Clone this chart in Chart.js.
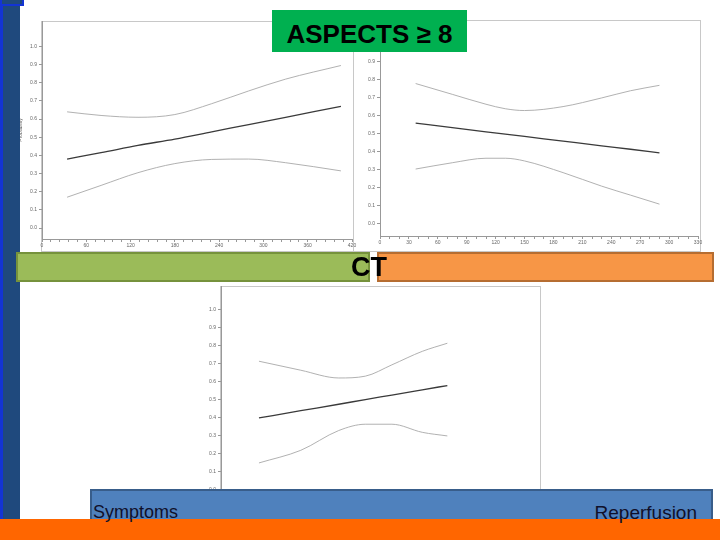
<!DOCTYPE html>
<html>
<head>
<meta charset="utf-8">
<script src="https://cdn.jsdelivr.net/npm/chart.js@4.4.1/dist/chart.umd.min.js"></script>
<style>
  body { margin: 0; width: 720px; height: 540px; position: relative; overflow: hidden; background: #fff;
         font-family: "Liberation Sans", Arial, sans-serif; }
  .abs { position: absolute; box-sizing: border-box; }
  .frame { border: 1px solid #c8c8c8; z-index: 1; }
  canvas { position: absolute; z-index: 2; }
  .bar { z-index: 3; }
  .txt { position: absolute; z-index: 5; white-space: nowrap; }
</style>
</head>
<body>

<div class="abs bar" style="left:0;top:0;width:20px;height:520px;background:#1f497d;border-left:3px solid #1334d4;"></div>
<div class="abs bar" style="left:0;top:0;width:24px;height:6px;background:#1f497d;border:2px solid #1334d4;border-top:0;"></div>

<div class="abs frame" style="left:41px;top:21px;width:313px;height:231px;"></div>
<div class="abs frame" style="left:353px;top:20px;width:348px;height:232px;"></div>
<div class="abs frame" style="left:220px;top:286px;width:321px;height:234px;"></div>

<canvas id="symptomsCtChart" width="342" height="238" style="left:18px;top:15px;"></canvas>
<canvas id="ctReperfusionChart" width="346" height="236" style="left:360px;top:14px;"></canvas>
<canvas id="symptomsReperfusionChart" width="347" height="234" style="left:201px;top:280px;"></canvas>

<div class="abs bar" style="left:272px;top:10px;width:195px;height:42px;background:#00b050;z-index:4;"></div>
<div class="txt" style="left:272px;top:10px;width:195px;height:42px;line-height:42px;padding-top:3px;box-sizing:border-box;text-align:center;font-weight:bold;font-size:26px;color:#000;">ASPECTS ≥ 8</div>

<div class="abs bar" style="left:16px;top:252px;width:354px;height:30px;background:#9bbb59;border:2px solid #76923c;"></div>
<div class="abs bar" style="left:377px;top:252px;width:337px;height:30px;background:#f79646;border:2px solid #b66d31;"></div>
<div class="txt" style="left:351px;top:254px;font-weight:bold;font-size:27px;line-height:27px;color:#000;">CT</div>

<div class="abs bar" style="left:90px;top:489px;width:623px;height:32px;background:#4f81bd;border:2px solid #385d8a;"></div>
<div class="abs bar" style="left:0;top:519px;width:720px;height:21px;background:#ff6600;"></div>
<div class="txt" style="left:93px;top:502px;font-size:18px;line-height:20px;color:#10102a;">Symptoms</div>
<div class="txt" style="right:23px;top:503px;font-size:19px;line-height:20px;color:#10102a;">Reperfusion</div>

<script>
// probability axis ticks shared by all three panels
const probTicks = [0.0, 0.1, 0.2, 0.3, 0.4, 0.5, 0.6, 0.7, 0.8, 0.9, 1.0];

// panel 1: symptoms -> CT (minutes)
const symCtTicks = [0, 60, 120, 180, 240, 300, 360, 420];
const symCtX   = [34, 80, 130, 180, 230, 280, 330, 405];
const symCtEst = [0.38, 0.415, 0.455, 0.49, 0.53, 0.57, 0.61, 0.67];
const symCtLo  = [0.17, 0.235, 0.305, 0.355, 0.378, 0.38, 0.36, 0.315];
const symCtHi  = [0.64, 0.62, 0.61, 0.625, 0.685, 0.755, 0.82, 0.895];

// panel 2: CT -> reperfusion (minutes)
const ctRepTicks = [0, 30, 60, 90, 120, 150, 180, 210, 240, 270, 300, 330];
const ctRepX   = [37, 75, 110, 130, 150, 190, 230, 260, 290];
const ctRepEst = [0.56, 0.535, 0.512, 0.499, 0.486, 0.46, 0.434, 0.415, 0.395];
const ctRepLo  = [0.305, 0.34, 0.365, 0.365, 0.35, 0.285, 0.21, 0.16, 0.11];
const ctRepHi  = [0.78, 0.72, 0.665, 0.64, 0.63, 0.652, 0.70, 0.74, 0.77];

// panel 3: symptoms -> reperfusion
const symRepTicks = [0, 60, 120, 180, 240, 300, 360, 420];
const symRepX   = [50, 105, 155, 190, 225, 265, 298];
const symRepEst = [0.40, 0.44, 0.476, 0.502, 0.527, 0.556, 0.58];
const symRepLo  = [0.15, 0.22, 0.33, 0.365, 0.365, 0.32, 0.30];
const symRepHi  = [0.715, 0.665, 0.622, 0.632, 0.695, 0.77, 0.815];

Chart.defaults.font.family = '"Liberation Sans", Arial, sans-serif';

function curveChart(id, xs, est, lo, hi, o) {
    const ctx = document.getElementById(id).getContext('2d');
    const pts = ys => xs.map((x, i) => ({ x: x, y: ys[i] }));
    return new Chart(ctx, {
        type: 'line',
        data: {
            datasets: [
                { data: pts(hi), borderColor: '#a8a8a8', borderWidth: 0.9 },
                { data: pts(est), borderColor: '#3a3a3a', borderWidth: 1.3 },
                { data: pts(lo), borderColor: '#a8a8a8', borderWidth: 0.9 }
            ]
        },
        options: {
            responsive: false,
            animation: false,
            layout: { padding: { left: 0, top: 6, right: 8, bottom: 0 } },
            elements: {
                point: { radius: 0 },
                line: { cubicInterpolationMode: 'monotone', fill: false }
            },
            plugins: { legend: { display: false }, tooltip: { enabled: false } },
            scales: {
                x: {
                    type: 'linear',
                    min: 0,
                    max: o.xMax,
                    afterBuildTicks: s => {
                        const t = [];
                        for (let v = 0; v <= o.xMax; v += o.xMinor) t.push({ value: v });
                        s.ticks = t;
                    },
                    afterFit: s => { s.height = 14; },
                    ticks: {
                        autoSkip: false, maxRotation: 0, padding: 1,
                        font: { size: 5 }, color: '#666',
                        callback: v => o.xTicks.includes(v) ? String(v) : ''
                    },
                    grid: { drawOnChartArea: false, tickLength: 3, color: '#999' },
                    border: { color: '#999' }
                },
                y: {
                    min: o.yMin,
                    max: o.yMax,
                    afterBuildTicks: s => { s.ticks = probTicks.map(v => ({ value: v })); },
                    afterFit: s => { s.width = o.yW; },
                    ticks: { padding: 2, font: { size: 5 }, color: '#666', callback: v => v.toFixed(1) },
                    grid: { drawOnChartArea: false, tickLength: 3, color: '#999' },
                    border: { color: '#999' },
                    title: o.yTitle
                        ? { display: true, text: o.yTitle, font: { size: 5 }, color: '#666', padding: 0 }
                        : { display: false }
                }
            }
        }
    });
}

const symptomsCtChart = curveChart('symptomsCtChart', symCtX, symCtEst, symCtLo, symCtHi,
    { xMax: 420, xMinor: 12, xTicks: symCtTicks, yMin: -0.06, yMax: 1.14, yW: 24, yTitle: 'Probability' });

const ctReperfusionChart = curveChart('ctReperfusionChart', ctRepX, ctRepEst, ctRepLo, ctRepHi,
    { xMax: 330, xMinor: 10, xTicks: ctRepTicks, yMin: -0.067, yMax: 1.133, yW: 20 });

const symptomsReperfusionChart = curveChart('symptomsReperfusionChart', symRepX, symRepEst, symRepLo, symRepHi,
    { xMax: 420, xMinor: 12, xTicks: symRepTicks, yMin: -0.056, yMax: 1.133, yW: 20 });
</script>
</body>
</html>
